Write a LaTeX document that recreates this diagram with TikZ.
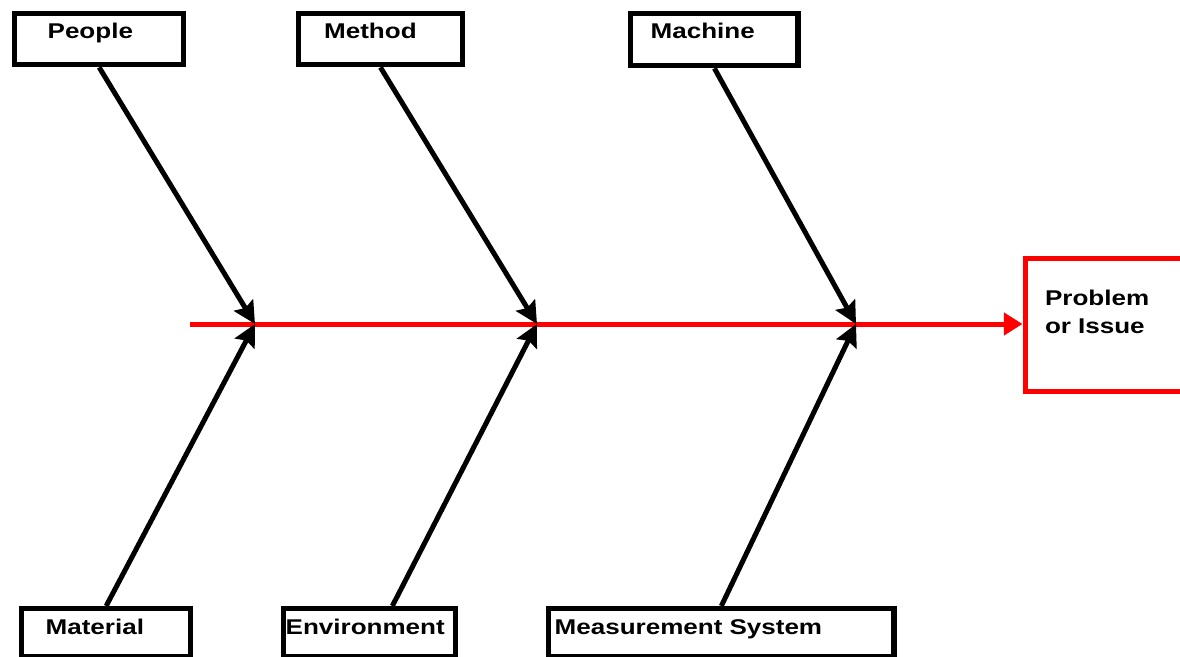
\documentclass[tikz,border=0pt]{standalone}
\usepackage{fontspec}
\setmainfont{Liberation Sans}[FakeStretch=1.22]
\usetikzlibrary{arrows.meta}
\definecolor{fishred}{RGB}{255,0,0}

\begin{document}
\begin{tikzpicture}[x=0.75pt, y=-0.75pt,
    cause/.style={draw, line width=4pt, anchor=north west, inner ysep=0pt, text height=18.75pt, text depth=19.5pt, align=left, font=\bfseries\fontsize{16}{19}\selectfont},
    lowcause/.style={cause, text height=19.5pt, text depth=16.5pt},
    effect/.style={draw=fishred, line width=3.75pt, anchor=north west, inner ysep=0pt, inner xsep=15pt, text width=160pt, text height=35.25pt, text depth=64.5pt, align=left, font=\bfseries\fontsize{16}{21.25}\selectfont},
    bone/.style={line width=3.75pt, -{Stealth[length=16.5pt, width=16.5pt, inset=2.5pt]}},
    spine/.style={draw=fishred, line width=3.75pt, -{Triangle[length=14pt, width=16.5pt]}}
]
\clip (0,0) rectangle (1180,656);
\node[cause, inner xsep=24.75pt, text width=77.25pt] (people) at (12,11) {People};
\node[cause, inner xsep=19.5pt, text width=84.4pt] (method) at (295.5,11) {Method};
\node[cause, inner xsep=15pt, text width=95.6pt, text depth=20.25pt] (machine) at (628,11) {Machine};
\node[lowcause, inner xsep=18pt, text width=90.75pt] (material) at (19,606) {Material};
\node[lowcause, inner xsep=1.5pt, text width=126pt] (environment) at (281,606) {Environment};
\node[lowcause, inner xsep=4.5pt, text width=250pt] (measurement) at (546,606) {Measurement System};
\node[effect] (problem) at (1022.5,256) {Problem\\or Issue};

\coordinate (tail) at (190,324);
\coordinate (j1) at (255,324);
\coordinate (j2) at (537,324);
\coordinate (j3) at (856,324);

\draw[spine] (tail) -- (tail -| problem.west);
\draw[bone] (people.south) -- (j1);
\draw[bone] (material.north) -- (j1);
\draw[bone] (method.south) -- (j2);
\draw[bone] ([xshift=17pt]environment.north) -- (j2);
\draw[bone] (machine.south) -- (j3);
\draw[bone] (measurement.north) -- (j3);
\end{tikzpicture}
\end{document}
